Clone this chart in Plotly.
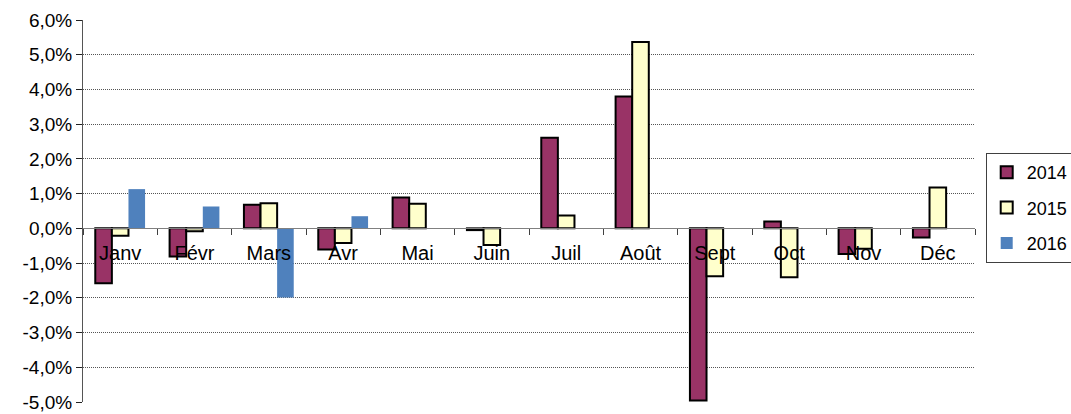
import plotly.graph_objects as go

months = ["Janv", "Févr", "Mars", "Avr", "Mai", "Juin", "Juil", "Août", "Sept", "Oct", "Nov", "Déc"]
v2014 = [-1.58, -0.81, 0.68, -0.61, 0.89, -0.05, 2.61, 3.80, -4.96, 0.20, -0.74, -0.26]
v2015 = [-0.21, -0.08, 0.72, -0.42, 0.71, -0.48, 0.37, 5.37, -1.38, -1.41, -0.59, 1.18]
v2016 = [1.13, 0.63, -1.99, 0.35, None, None, None, None, None, None, None, None]
ytick_vals = [6, 5, 4, 3, 2, 1, 0, -1, -2, -3, -4, -5]

FONT = "Liberation Sans, Arial, sans-serif"

fig = go.Figure()
fig.add_trace(go.Bar(x=months, y=v2014, name="2014", legendgroup="a",
                     marker=dict(color="#993366", line=dict(color="black", width=2))))
fig.add_trace(go.Bar(x=months, y=v2015, name="2015", legendgroup="b",
                     marker=dict(color="#FFFFCC", line=dict(color="black", width=2))))
fig.add_trace(go.Bar(x=months, y=v2016, name="2016", legendgroup="c",
                     marker=dict(color="#4F81BD", line=dict(width=0))))

fig.update_layout(
    width=1071, height=414,
    margin=dict(l=83, r=96, t=20, b=12, autoexpand=False),
    paper_bgcolor="white", plot_bgcolor="white",
    barmode="group", bargap=0.33, bargroupgap=0,
    font=dict(family=FONT, size=19, color="black"),
    showlegend=True,
    legend=dict(x=1.012, xanchor="left", y=0.652, yanchor="top",
                bordercolor="#404040", borderwidth=1, bgcolor="white",
                font=dict(size=18), tracegroupgap=9, traceorder="grouped",
                itemwidth=30),
    xaxis=dict(anchor="free", position=5/11, showgrid=False, showline=True,
               linecolor="#808080", linewidth=1, ticks="outside", ticklen=6,
               tickcolor="#404040", tickson="boundaries", tickfont=dict(size=20),
               ticklabelstandoff=7, zeroline=False, automargin=False),
    yaxis=dict(range=[-5, 6], tickvals=ytick_vals,
               ticktext=[f"{v:.1f}%".replace(".", ",") for v in ytick_vals],
               showgrid=True, gridcolor="#555555", griddash="1px,1px", gridwidth=1,
               showline=True, linecolor="#555555", linewidth=1,
               ticks="outside", ticklen=6, tickcolor="#222222",
               zeroline=False, tickfont=dict(size=19), automargin=False),
)

fig.write_html("out.html", config={"displayModeBar": False},
               post_script="document.body.style.margin='0px';document.body.style.overflow='hidden';")
